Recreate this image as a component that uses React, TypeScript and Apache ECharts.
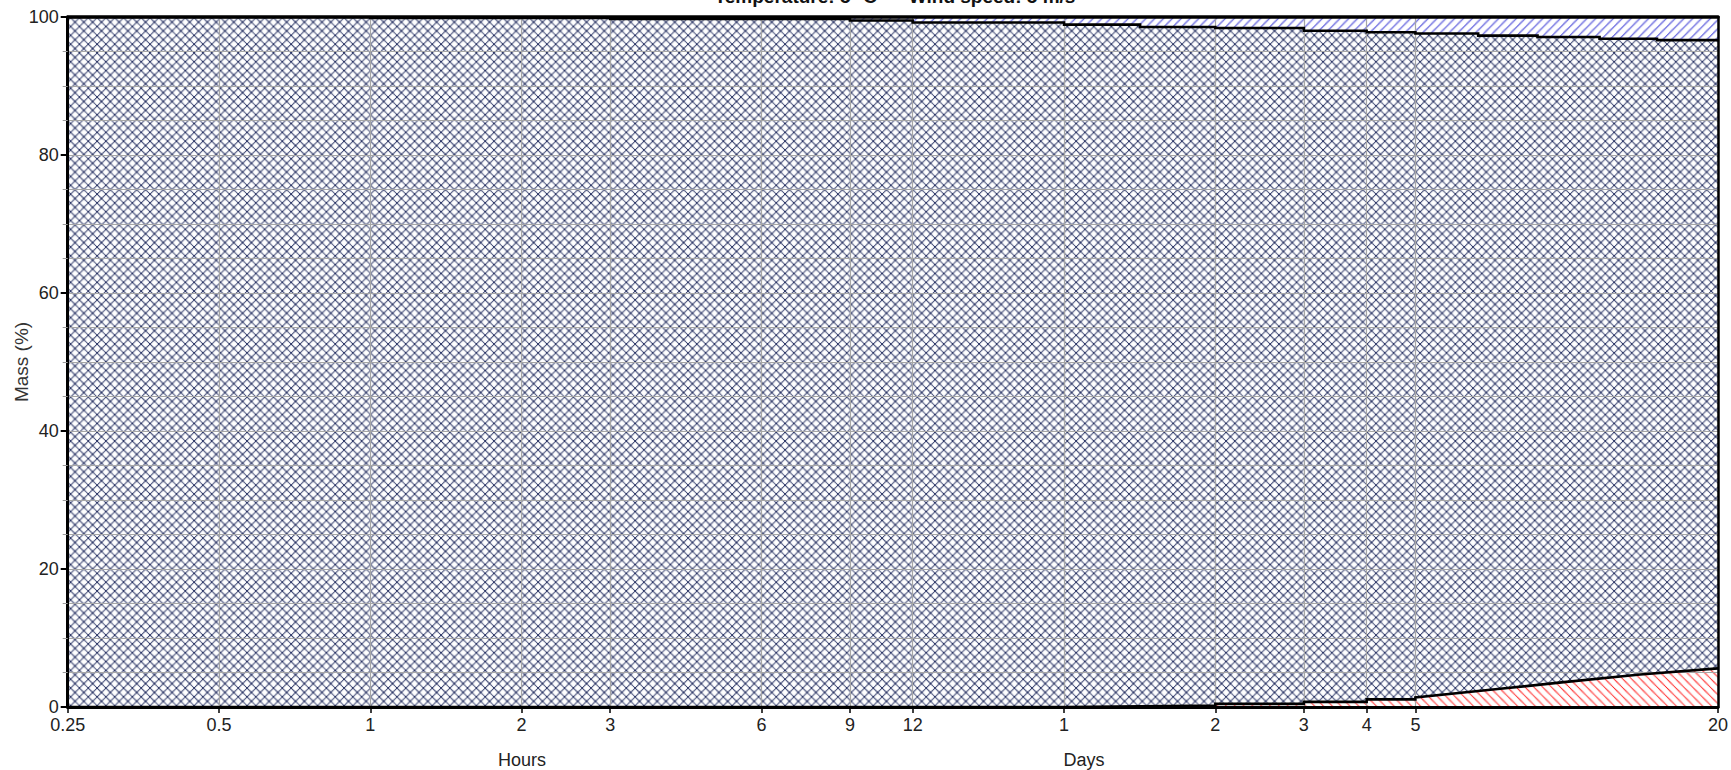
import React, { useEffect, useRef } from 'react';
import * as echarts from 'echarts';

// ---- axis ticks (x axis is log2 of hours) ----
const tickHours = [0.25, 0.5, 1, 2, 3, 6, 9, 12, 24, 48, 72, 96, 120, 480];
const tickLabels = ['0.25', '0.5', '1', '2', '3', '6', '9', '12', '1', '2', '3', '4', '5', '20'];
const yMin = 0;
const yMax = 100;
const yInterval = 20;

// ---- upper boundary (top of cross-hatched band), step values held from each time ----
const topStepHours = [0.25, 1, 3, 9, 12, 24, 34, 48, 72, 96, 120, 160, 210, 279, 363, 480];
const topStepValues = [100, 99.85, 99.7, 99.5, 99.2, 98.9, 98.55, 98.4, 98.0, 97.8, 97.6, 97.3, 97.1, 96.85, 96.65, 96.65];

// ---- lower boundary (top of red band) ----
const bottomHours = [0.25, 24, 24, 34, 34, 48, 48, 72, 72, 96, 96, 120, 120, 175, 237, 336, 480];
const bottomValues = [0, 0, 0.1, 0.1, 0.2, 0.2, 0.45, 0.45, 0.75, 0.75, 1.1, 1.1, 1.4, 2.6, 3.6, 4.7, 5.6];

// ---- full band (blue diagonal hatch) ----
const fullHours = [0.25, 480];
const fullValues = [100, 100];

const titleText = 'Temperature: 5 °C  –  Wind speed: 5 m/s';

const narrowFont = 'Liberation Sans Narrow, Arial Narrow, Liberation Sans, Arial, sans-serif';
const regularFont = 'Liberation Sans, Arial, sans-serif';

const lg = (h: number) => Math.log2(h);

// 8x8 GDI-like hatch tile, drawn at 4x resolution
function makeHatch(kind: 'cross' | 'f' | 'b', color: string) {
  const S = 4;
  const c = document.createElement('canvas');
  c.width = 8 * S;
  c.height = 8 * S;
  const ctx = c.getContext('2d')!;
  ctx.fillStyle = '#ffffff';
  ctx.fillRect(0, 0, 8 * S, 8 * S);
  ctx.fillStyle = color;
  const dot = (px: number, py: number) => {
    for (const ox of [-8, 0, 8]) {
      for (const oy of [-8, 0, 8]) {
        ctx.fillRect((px + ox) * S, (py + oy) * S, S + 0.5, S + 0.5);
      }
    }
  };
  for (let i = 0; i < 8; i++) {
    if (kind === 'cross' || kind === 'f') dot(i, i);
    if (kind === 'cross' || kind === 'b') dot(i, 7 - i);
  }
  return { image: c, repeat: 'repeat', imageWidth: 8.82, imageHeight: 8.82 } as any;
}

export default function App() {
  const ref = useRef<HTMLDivElement>(null);

  useEffect(() => {
    if (!ref.current) return;
    const chart = echarts.init(ref.current, undefined, { renderer: 'svg' });

    const topData: number[][] = [];
    for (let i = 0; i < topStepHours.length - 1; i++) {
      topData.push([lg(topStepHours[i]), topStepValues[i]]);
      topData.push([lg(topStepHours[i + 1]), topStepValues[i]]);
    }
    const bottomData = bottomHours.map((h, i) => [lg(h), bottomValues[i]]);
    const fullData = fullHours.map((h, i) => [lg(h), fullValues[i]]);

    const xMin = lg(tickHours[0]);
    const xMax = lg(tickHours[tickHours.length - 1]);
    const tickVals = tickHours.map(lg);

    const xLabel = (v: number) => {
      for (let i = 0; i < tickVals.length; i++) {
        if (Math.abs(tickVals[i] - v) < 1e-6) return tickLabels[i];
      }
      return '';
    };

    const grid = { left: 67.7, right: 9, top: 17, bottom: 63 };

    const areaSeries = (name: string, data: number[][], pattern: any) => ({
      name,
      type: 'line',
      data,
      z: 1,
      symbol: 'none',
      showSymbol: false,
      silent: true,
      lineStyle: { width: 0, opacity: 0 },
      areaStyle: { color: pattern, opacity: 1 },
    });
    const lineSeries = (name: string, data: number[][]) => ({
      name,
      type: 'line',
      data,
      z: 3,
      symbol: 'none',
      showSymbol: false,
      silent: true,
      lineStyle: { width: 2.6, color: '#000000', join: 'miter' },
    });

    const option: any = {
      animation: false,
      backgroundColor: '#ffffff',
      grid,
      xAxis: [
        {
          type: 'value',
          min: xMin,
          max: xMax,
          z: 2,
          axisLine: { show: true, onZero: false, lineStyle: { color: '#000', width: 3 } },
          axisTick: {
            show: true,
            customValues: tickVals,
            length: 6,
            lineStyle: { color: '#000', width: 1.5 },
          },
          axisLabel: {
            customValues: tickVals,
            formatter: xLabel,
            margin: 9,
            fontSize: 18,
            fontFamily: narrowFont,
            color: '#222',
          },
          splitLine: { show: true, lineStyle: { color: '#a6a6a6', width: 1.2 } },
        },
        {
          type: 'value',
          position: 'top',
          min: xMin,
          max: xMax,
          z: 4,
          axisLine: { show: true, onZero: false, lineStyle: { color: '#000', width: 3.5 } },
          axisTick: { show: false },
          axisLabel: { show: false },
          splitLine: { show: false },
        },
      ],
      yAxis: [
        {
          type: 'value',
          min: yMin,
          max: yMax,
          interval: yInterval,
          z: 2,
          axisLine: { show: true, onZero: false, lineStyle: { color: '#000', width: 3 } },
          axisTick: { show: true, length: 7, lineStyle: { color: '#000', width: 2 } },
          minorTick: { show: true, splitNumber: 4, length: 5, lineStyle: { color: '#999', width: 1 } },
          minorSplitLine: { show: true, lineStyle: { color: '#a6a6a6', width: 1.2 } },
          splitLine: { show: true, lineStyle: { color: '#a6a6a6', width: 1.2 } },
          axisLabel: {
            margin: 9,
            fontSize: 18,
            fontFamily: narrowFont,
            color: '#222',
          },
        },
        {
          type: 'value',
          position: 'right',
          min: yMin,
          max: yMax,
          interval: yInterval,
          z: 4,
          axisLine: { show: true, onZero: false, lineStyle: { color: '#000', width: 2.5 } },
          axisTick: { show: false },
          axisLabel: { show: false },
          splitLine: { show: false },
        },
      ],
      series: [
        areaSeries('Full', fullData, makeHatch('b', '#3434d4')),
        areaSeries('Upper', topData, makeHatch('cross', '#2e3868')),
        areaSeries('Lower', bottomData, makeHatch('f', '#ff1e1e')),
        lineSeries('Upper line', topData),
        lineSeries('Lower line', bottomData),
      ],
      graphic: [
        {
          type: 'text',
          x: 895,
          y: -3.5,
          silent: true,
          style: {
            text: titleText,
            fontSize: 19,
            fontWeight: 'bold',
            fontFamily: regularFont,
            fill: '#111',
            align: 'center',
            textAlign: 'center',
            verticalAlign: 'middle',
            textVerticalAlign: 'middle',
          },
        },
        {
          type: 'text',
          x: 21,
          y: 362,
          rotation: Math.PI / 2,
          silent: true,
          style: {
            text: 'Mass (%)',
            fontSize: 19,
            fontFamily: regularFont,
            fill: '#333',
            align: 'center',
            textAlign: 'center',
            verticalAlign: 'middle',
            textVerticalAlign: 'middle',
          },
        },
        {
          type: 'text',
          x: 522,
          y: 760,
          silent: true,
          style: {
            text: 'Hours',
            fontSize: 18,
            fontFamily: narrowFont,
            fill: '#222',
            align: 'center',
            textAlign: 'center',
            verticalAlign: 'middle',
            textVerticalAlign: 'middle',
          },
        },
        {
          type: 'text',
          x: 1084,
          y: 760,
          silent: true,
          style: {
            text: 'Days',
            fontSize: 18,
            fontFamily: narrowFont,
            fill: '#222',
            align: 'center',
            textAlign: 'center',
            verticalAlign: 'middle',
            textVerticalAlign: 'middle',
          },
        },
      ],
    };

    chart.setOption(option);
    return () => chart.dispose();
  }, []);

  return (
    <div
      ref={ref}
      style={{ position: 'fixed', left: 0, top: 0, width: 1731, height: 770, background: '#fff' }}
    />
  );
}
